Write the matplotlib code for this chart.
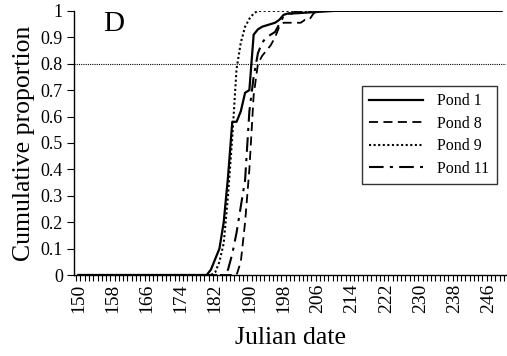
import matplotlib.pyplot as plt
from matplotlib.ticker import FixedLocator

plt.rcParams['font.family'] = ['Liberation Serif', 'DejaVu Serif']

# cumulative proportion by julian date
pond1_days = [150, 180, 181, 182, 183, 184, 185, 186, 187, 188, 189, 190, 191, 192, 193, 194,
              195, 196, 197, 198, 199, 200, 205, 210, 249]
pond1_vals = [0, 0, 0.02, 0.06, 0.10, 0.20, 0.37, 0.58, 0.58, 0.62, 0.69, 0.70, 0.91, 0.93, 0.94, 0.945,
              0.95, 0.955, 0.966, 0.985, 0.99, 0.99, 0.995, 1.0, 1.0]

pond8_days = [150, 187, 188, 189, 190, 191, 192, 193, 194, 195, 196, 197, 198, 202, 203, 204, 205, 206, 249]
pond8_vals = [0, 0, 0.05, 0.20, 0.40, 0.68, 0.80, 0.83, 0.85, 0.87, 0.90, 0.94, 0.955, 0.955, 0.966, 0.966,
              0.99, 1.0, 1.0]

pond9_days = [150, 181, 182, 183, 184, 185, 186, 187, 188, 189, 190, 191, 192, 249]
pond9_vals = [0, 0, 0.01, 0.05, 0.12, 0.30, 0.52, 0.78, 0.88, 0.94, 0.97, 0.99, 1.0, 1.0]

pond11_days = [150, 184, 185, 186, 187, 188, 189, 190, 191, 192, 193, 194, 195, 196, 197, 198, 199, 200,
               201, 249]
pond11_vals = [0, 0, 0.02, 0.08, 0.16, 0.26, 0.36, 0.62, 0.75, 0.84, 0.88, 0.90, 0.91, 0.92, 0.95, 0.98,
               0.99, 0.99, 1.0, 1.0]

label_days = list(range(150, 250, 8))
y_ticks = [0, 0.1, 0.2, 0.3, 0.4, 0.5, 0.6, 0.7, 0.8, 0.9, 1.0]
y_labels = ['0', '0.1', '0.2', '0.3', '0.4', '0.5', '0.6', '0.7', '0.8', '0.9', '1']

fig = plt.figure(figsize=(5.07, 3.56), dpi=100)
ax = fig.add_axes([0.146, 0.2275, 0.852, 0.742])

ax.plot(pond1_days, pond1_vals, color='black', lw=1.6, ls='-', label='Pond 1')
ax.plot(pond8_days, pond8_vals, color='black', lw=1.3, ls=(0, (5, 3)), label='Pond 8')
ax.plot(pond9_days, pond9_vals, color='black', lw=1.5, ls=(0, (1, 1.2)), label='Pond 9')
ax.plot(pond11_days, pond11_vals, color='black', lw=1.5, ls=(0, (7, 3, 1.5, 3)), label='Pond 11')

# 80% reference line
ax.axhline(0.8, color='black', lw=0.8, ls=(0, (1, 1)))

ax.set_xlim(149, 250)
ax.set_ylim(0, 1)

ax.spines['top'].set_visible(False)
ax.spines['right'].set_visible(False)
ax.spines['left'].set_linewidth(1.0)
ax.spines['bottom'].set_linewidth(1.0)

ax.xaxis.set_major_locator(FixedLocator(label_days))
ax.set_xticklabels([str(d) for d in label_days], rotation=90, fontsize=14)
ax.xaxis.set_minor_locator(FixedLocator([d + 0.5 for d in range(148, 250)]))
ax.tick_params(axis='x', which='major', length=0, pad=6)
ax.tick_params(axis='x', which='minor', direction='out', length=4, width=0.8)

ax.set_yticks(y_ticks)
ax.set_yticklabels(y_labels, fontsize=13)
ax.tick_params(axis='y', which='major', direction='out', length=5, width=0.8, pad=3)

ax.set_xlabel('Julian date', fontsize=18.5, labelpad=10)
ax.set_ylabel('Cumulative proportion', fontsize=18.5, labelpad=4)

ax.text(0.068, 1.0, 'D', transform=ax.transAxes, fontsize=21, va='top', ha='left')

leg = ax.legend(loc='upper right', bbox_to_anchor=(0.997, 0.745), fontsize=11.5, frameon=True,
                fancybox=False, handlelength=3.4, borderpad=0.45, labelspacing=0.4, handletextpad=0.9)
leg.get_frame().set_edgecolor('black')
leg.get_frame().set_linewidth(1.0)

plt.savefig('out.png', dpi=100)
plt.close()
